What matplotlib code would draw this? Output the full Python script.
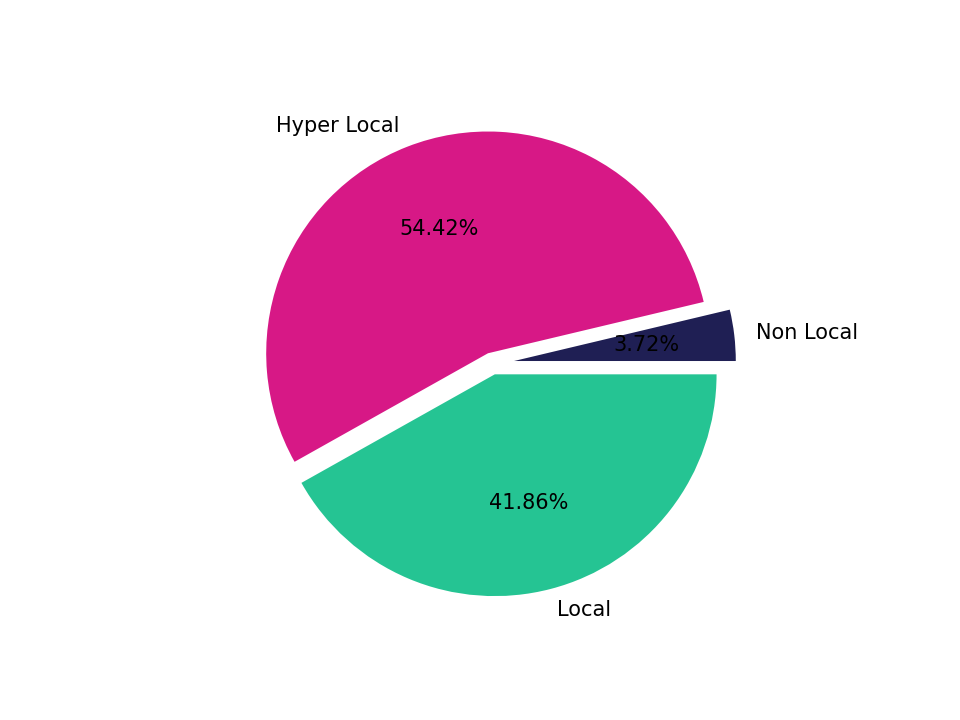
import matplotlib
matplotlib.use("Agg")
import matplotlib.pyplot as plt

labels = ["Non Local", "Hyper Local", "Local"]
values = [3.72, 54.42, 41.86]
colors = ["#1f1f54", "#d71886", "#25c493"]
explode = [0.1, 0.05, 0.05]

fig, ax = plt.subplots(figsize=(6.4, 4.8), dpi=150)
ax.pie(values, labels=labels, colors=colors, explode=explode, autopct="%.2f%%")
fig.savefig("out.png")
